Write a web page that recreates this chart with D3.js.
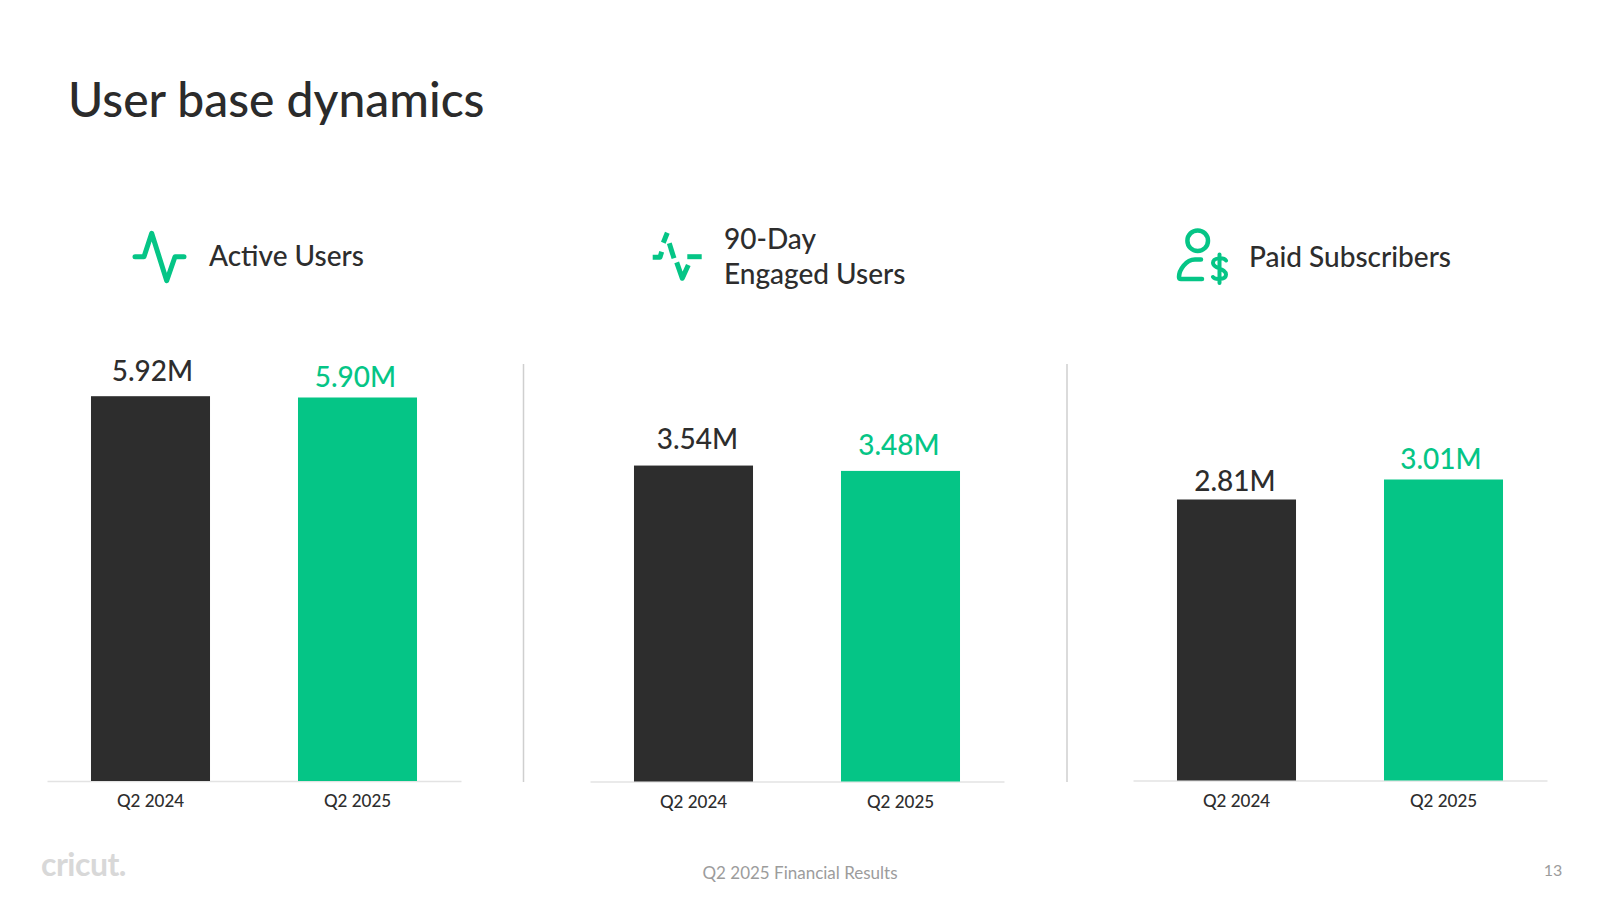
<!DOCTYPE html>
<html><head><meta charset="utf-8">
<script src="https://cdn.jsdelivr.net/npm/d3@7/dist/d3.min.js"></script>
<style>html,body{margin:0;background:#fff}svg{display:block}text{font-family:Lato,"Noto Sans",sans-serif}</style>
</head><body><svg id="c" width="1600" height="900"></svg>
<script>
const title = "User base dynamics";
const quarters = ["Q2 2024", "Q2 2025"];
const activeUsers = [5.92, 5.90];
const engagedUsers = [3.54, 3.48];
const paidSubscribers = [2.81, 3.01];
const valueLabels = [["5.92M","5.90M"],["3.54M","3.48M"],["2.81M","3.01M"]];
const footer = "Q2 2025 Financial Results";
const pageNumber = "13";

const DARK="#2d2d2d", GREEN="#05c586";
const panels = [
 {v:activeUsers, x0:47, base:781, yMax:6, h:390, dx:[2,-2], dy:[15,11], tickY:0},
 {v:engagedUsers, x0:590, base:781.5, yMax:4, h:357, dx:[4,-1.5], dy:[17,16], tickY:1},
 {v:paidSubscribers, x0:1133, base:780.5, yMax:3.5, h:350, dx:[-1.5,-2.5], dy:[9,10.5], tickY:-1}
];
const svg=d3.select("#c");
svg.append("text").attr("x",68).attr("y",117).attr("font-size",48).attr("font-weight",500).attr("fill","#2b2b2b").text(title);

panels.forEach((p,i)=>{
  const x=d3.scaleBand().domain(quarters).range([p.x0,p.x0+414]).paddingInner(.425).paddingOuter(.2125);
  const y=d3.scaleLinear().domain([0,p.yMax]).range([p.base,p.base-p.h]);
  const g=svg.append("g");
  const ax=g.append("g").attr("transform",`translate(0,${p.base})`).call(d3.axisBottom(x).tickSize(0).tickSizeOuter(0).tickPadding(14));
  ax.select(".domain").attr("stroke","#e3e3e3").attr("stroke-width",1.5);
  ax.selectAll("text").attr("font-family","Lato,sans-serif").attr("font-size",17).attr("font-weight",500).attr("fill",DARK).style("font-family","Lato,sans-serif");
  g.selectAll("rect").data(p.v).join("rect")
    .attr("x",(d,j)=>x(quarters[j])).attr("width",x.bandwidth())
    .attr("y",d=>y(d)).attr("height",d=>p.base-y(d))
    .attr("fill",(d,j)=>j?GREEN:DARK);
  g.selectAll("text.val").data(p.v).join("text").attr("class","val")
    .attr("x",(d,j)=>x(quarters[j])+x.bandwidth()/2+p.dx[j])
    .attr("y",(d,j)=>y(d)-p.dy[j]).attr("text-anchor","middle")
    .attr("font-size",28).attr("font-weight",500)
    .attr("fill",(d,j)=>j?GREEN:DARK).text((d,j)=>valueLabels[i][j]);
});
[523.5,1067].forEach(xp=>svg.append("line").attr("x1",xp).attr("x2",xp).attr("y1",364).attr("y2",782).attr("stroke","#cfcfcf").attr("stroke-width",1.5));

function head(t,x,y){svg.append("text").attr("x",x).attr("y",y).attr("font-size",28).attr("font-weight",500).attr("fill",DARK).text(t);}
head("Active Users",209,266);
head("90-Day",724,248.5);
head("Engaged Users",724,284);
head("Paid Subscribers",1249,266.5);

const ic=svg.append("g").attr("fill","none").attr("stroke",GREEN).attr("stroke-width",5).attr("stroke-linecap","round").attr("stroke-linejoin","round");
ic.append("path").attr("d","M135,256.7H144L151.7,233.3L166.7,280.7L175,256.7H184");
ic.append("g").attr("stroke-linecap","butt").call(s=>{
 ["M652.7,257.3H660L661.7,251.7","M663.3,242.7L667.3,232.7","M669.3,243.3L674,258.3","M676.7,262.3L682.3,278.3L688.3,265","M687.3,256.7H701.7"].forEach(d=>s.append("path").attr("d",d));
});
ic.append("circle").attr("cx",1197.7).attr("cy",240.7).attr("r",10.3).attr("stroke-width",4.5);
ic.append("path").attr("stroke-width",4.5).attr("d","M1201,259.5H1195C1186,259.5 1179,270 1179,277Q1179,279 1181,279H1202");
ic.append("path").attr("stroke-width",4).attr("d","M1226,260.5C1224,257.5 1213,257 1213,263C1213,269 1226,268 1226,274.5C1226,280 1215,280 1213,277M1219.5,254.5V283");

svg.append("text").attr("x",41).attr("y",876).attr("font-size",32).attr("font-weight",700).attr("fill","#d8d8d8").attr("letter-spacing",-0.5).text("cricut.");
svg.append("text").attr("x",800).attr("y",879).attr("text-anchor","middle").attr("font-size",17).attr("fill","#9c9c9c").text(footer);
svg.append("text").attr("x",1553).attr("y",876).attr("text-anchor","middle").attr("font-size",16).attr("fill","#9c9c9c").text(pageNumber);
</script></body></html>
